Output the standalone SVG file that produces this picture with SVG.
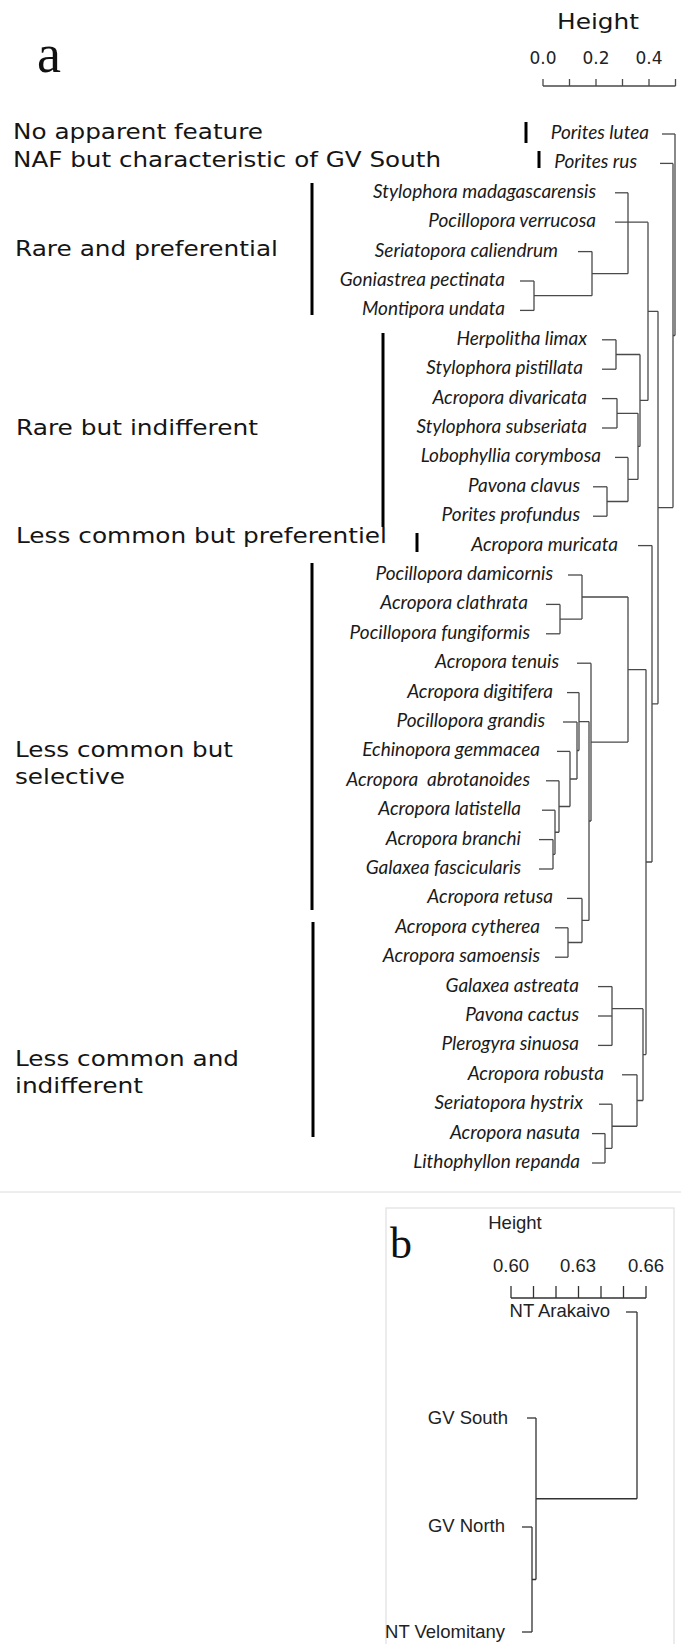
<svg xmlns="http://www.w3.org/2000/svg" width="681" height="1644" viewBox="0 0 681 1644">
<style>
.grp{font-family:"DejaVu Sans",Verdana,sans-serif;font-size:21px;fill:#151515}
.sp{font-family:Lato,"Liberation Sans",sans-serif;font-style:italic;font-size:19px;fill:#1a1a1a;text-anchor:end}
.bar{stroke:#000;stroke-width:3;fill:none}
.ln{stroke:#4a4a4a;stroke-width:1.3;fill:none}
.ax{font-family:"DejaVu Sans",sans-serif;font-size:17px;fill:#222;text-anchor:middle}
.bl{font-family:"Liberation Sans",Arial,sans-serif;font-size:18.5px;fill:#222}
.bln{stroke:#333;stroke-width:1.3;fill:none}
</style>
<rect width="681" height="1644" fill="#fff"/>

<g id="panel-a-header">
<text x="37" y="72" font-family="'Liberation Serif',serif" font-size="54" fill="#111">a</text>
<text class="grp" x="598" y="29" text-anchor="middle" textLength="82" lengthAdjust="spacingAndGlyphs">Height</text>
<text class="ax" x="543" y="64">0.0</text>
<text class="ax" x="596" y="64">0.2</text>
<text class="ax" x="649" y="64">0.4</text>
<path class="ln" d="M543 86H675.5M543 79V86M569.5 79V86M596 79V86M622.5 79V86M649 79V86M675.5 79V86"/>
</g>

<g id="group-labels">
<g id="g-naf"><text class="grp" x="13" y="139" textLength="250" lengthAdjust="spacingAndGlyphs">No apparent feature</text><line class="bar" x1="526" y1="122" x2="526" y2="143"/></g>
<g id="g-gvs"><text class="grp" x="13" y="167" textLength="428" lengthAdjust="spacingAndGlyphs">NAF but characteristic of GV South</text><line class="bar" x1="539" y1="151" x2="539" y2="168"/></g>
<g id="g-rp"><text class="grp" x="15" y="256" textLength="263" lengthAdjust="spacingAndGlyphs">Rare and preferential</text><line class="bar" x1="312" y1="183" x2="312" y2="315"/></g>
<g id="g-ri"><text class="grp" x="16" y="435" textLength="242" lengthAdjust="spacingAndGlyphs">Rare but indifferent</text><line class="bar" x1="383" y1="333" x2="383" y2="527"/></g>
<g id="g-lcp"><text class="grp" x="16" y="543" textLength="371" lengthAdjust="spacingAndGlyphs">Less common but preferentiel</text><line class="bar" x1="417" y1="533" x2="417" y2="552"/></g>
<g id="g-lcs"><text class="grp" x="15" y="757" textLength="218" lengthAdjust="spacingAndGlyphs">Less common but</text><text class="grp" x="15" y="784" textLength="110" lengthAdjust="spacingAndGlyphs">selective</text><line class="bar" x1="312" y1="563" x2="312" y2="910"/></g>
<g id="g-lci"><text class="grp" x="15" y="1066" textLength="224" lengthAdjust="spacingAndGlyphs">Less common and</text><text class="grp" x="15" y="1093" textLength="128" lengthAdjust="spacingAndGlyphs">indifferent</text><line class="bar" x1="313" y1="922" x2="313" y2="1137"/></g>
</g>

<g id="leaves-a">
<g id="l01"><text class="sp" x="649" y="139">Porites lutea</text><line class="ln" x1="662" y1="134" x2="675" y2="134"/></g>
<g id="l02"><text class="sp" x="637" y="168.4">Porites rus</text><line class="ln" x1="660" y1="163.4" x2="673" y2="163.4"/></g>
<g id="l03"><text class="sp" x="596" y="197.8">Stylophora madagascarensis</text><line class="ln" x1="615" y1="192.8" x2="628" y2="192.8"/></g>
<g id="l04"><text class="sp" x="596" y="227.2">Pocillopora verrucosa</text><line class="ln" x1="615" y1="222.2" x2="648" y2="222.2"/></g>
<g id="l05"><text class="sp" x="558" y="256.6">Seriatopora caliendrum</text><line class="ln" x1="578" y1="251.6" x2="592" y2="251.6"/></g>
<g id="l06"><text class="sp" x="505" y="286">Goniastrea pectinata</text><line class="ln" x1="520" y1="281" x2="534" y2="281"/></g>
<g id="l07"><text class="sp" x="505" y="315.4">Montipora undata</text><line class="ln" x1="520" y1="310.4" x2="534" y2="310.4"/></g>
<g id="l08"><text class="sp" x="587" y="344.8">Herpolitha limax</text><line class="ln" x1="602" y1="339.8" x2="616" y2="339.8"/></g>
<g id="l09"><text class="sp" x="583" y="374.2">Stylophora pistillata</text><line class="ln" x1="602" y1="369.2" x2="616" y2="369.2"/></g>
<g id="l10"><text class="sp" x="587" y="403.6">Acropora divaricata</text><line class="ln" x1="602" y1="398.6" x2="617" y2="398.6"/></g>
<g id="l11"><text class="sp" x="587" y="433">Stylophora subseriata</text><line class="ln" x1="602" y1="428" x2="617" y2="428"/></g>
<g id="l12"><text class="sp" x="601" y="462.4">Lobophyllia corymbosa</text><line class="ln" x1="615" y1="457.4" x2="628" y2="457.4"/></g>
<g id="l13"><text class="sp" x="580" y="491.8">Pavona clavus</text><line class="ln" x1="593" y1="486.8" x2="607" y2="486.8"/></g>
<g id="l14"><text class="sp" x="580" y="521.2">Porites profundus</text><line class="ln" x1="593" y1="516.2" x2="607" y2="516.2"/></g>
<g id="l15"><text class="sp" x="618" y="550.6">Acropora muricata</text><line class="ln" x1="638" y1="545.6" x2="652" y2="545.6"/></g>
<g id="l16"><text class="sp" x="553" y="580">Pocillopora damicornis</text><line class="ln" x1="568" y1="575" x2="582" y2="575"/></g>
<g id="l17"><text class="sp" x="528" y="609.4">Acropora clathrata</text><line class="ln" x1="546" y1="604.4" x2="560" y2="604.4"/></g>
<g id="l18"><text class="sp" x="530" y="638.8">Pocillopora fungiformis</text><line class="ln" x1="546" y1="633.8" x2="560" y2="633.8"/></g>
<g id="l19"><text class="sp" x="559" y="668.2">Acropora tenuis</text><line class="ln" x1="577" y1="663.2" x2="591" y2="663.2"/></g>
<g id="l20"><text class="sp" x="553" y="697.6">Acropora digitifera</text><line class="ln" x1="567" y1="692.6" x2="579" y2="692.6"/></g>
<g id="l21"><text class="sp" x="545" y="727">Pocillopora grandis</text><line class="ln" x1="563" y1="722" x2="577" y2="722"/></g>
<g id="l22"><text class="sp" x="540" y="756.4">Echinopora gemmacea</text><line class="ln" x1="557" y1="751.4" x2="570" y2="751.4"/></g>
<g id="l23"><text class="sp" x="530" y="785.8" xml:space="preserve">Acropora  abrotanoides</text><line class="ln" x1="546" y1="780.8" x2="559" y2="780.8"/></g>
<g id="l24"><text class="sp" x="521" y="815.2">Acropora latistella</text><line class="ln" x1="542" y1="810.2" x2="555" y2="810.2"/></g>
<g id="l25"><text class="sp" x="521" y="844.6">Acropora branchi</text><line class="ln" x1="539" y1="839.6" x2="553" y2="839.6"/></g>
<g id="l26"><text class="sp" x="521" y="874">Galaxea fascicularis</text><line class="ln" x1="539" y1="869" x2="553" y2="869"/></g>
<g id="l27"><text class="sp" x="553" y="903.4">Acropora retusa</text><line class="ln" x1="567" y1="898.4" x2="582" y2="898.4"/></g>
<g id="l28"><text class="sp" x="540" y="932.8">Acropora cytherea</text><line class="ln" x1="555" y1="927.8" x2="568" y2="927.8"/></g>
<g id="l29"><text class="sp" x="540" y="962.2">Acropora samoensis</text><line class="ln" x1="555" y1="957.2" x2="568" y2="957.2"/></g>
<g id="l30"><text class="sp" x="579" y="991.6">Galaxea astreata</text><line class="ln" x1="598" y1="986.6" x2="612" y2="986.6"/></g>
<g id="l31"><text class="sp" x="579" y="1021">Pavona cactus</text><line class="ln" x1="598" y1="1016" x2="612" y2="1016"/></g>
<g id="l32"><text class="sp" x="579" y="1050.4">Plerogyra sinuosa</text><line class="ln" x1="598" y1="1045.4" x2="612" y2="1045.4"/></g>
<g id="l33"><text class="sp" x="604" y="1079.8">Acropora robusta</text><line class="ln" x1="622" y1="1074.8" x2="637" y2="1074.8"/></g>
<g id="l34"><text class="sp" x="583" y="1109.2">Seriatopora hystrix</text><line class="ln" x1="599" y1="1104.2" x2="612" y2="1104.2"/></g>
<g id="l35"><text class="sp" x="580" y="1138.6">Acropora nasuta</text><line class="ln" x1="592" y1="1133.6" x2="605" y2="1133.6"/></g>
<g id="l36"><text class="sp" x="580" y="1168">Lithophyllon repanda</text><line class="ln" x1="592" y1="1163" x2="605" y2="1163"/></g>
</g>

<g id="connectors-a">
<path class="ln" d="M534 281V310.4M534 295.7H592M592 251.6V295.7M592 273.65H628M628 192.8V273.65
M616 339.8V369.2M616 354.5H640M617 398.6V428M617 413.3H638M607 486.8V516.2M607 501.5H628M628 457.4V501.5M628 479.45H638M638 413.3V479.45M638 446.4H640M640 354.5V446.4M640 400.45H648M648 222.2V400.45M648 311.3H658
M560 604.4V633.8M560 619.1H582M582 575V619.1M582 597H628
M553 839.6V869M553 854.3H555M555 810.2V854.3M555 832.25H559M559 780.8V832.25M559 806.5H570M570 751.4V806.5M570 779H577M577 722V779M577 750.5H579M579 692.6V750.5M579 721.55H589
M568 927.8V957.2M568 942.5H582M582 898.4V942.5M582 920.45H589M589 721.55V920.45M589 821H591M591 663.2V821M591 742.1H628M628 597V742.1M628 669.55H646
M612 986.6V1045.4M612 1008.65H643M605 1133.6V1163M605 1148.3H612M612 1104.2V1148.3M612 1126.25H637M637 1074.8V1126.25M637 1100.5H643M643 1008.65V1100.5M643 1054.6H646
M646 669.55V1054.6M646 862H652M652 545.6V862M652 703.8H658M658 311.3V703.8M658 507.55H673M673 163.4V507.55M673 335.5H675M675 134V335.5"/>
</g>

<line x1="0" y1="1192" x2="681" y2="1192" stroke="#dcdcdc" stroke-width="1"/>

<g id="panel-b">
<rect x="386" y="1208" width="288" height="445" fill="none" stroke="#e0e0e0" stroke-width="1.2"/>
<text x="390" y="1258" font-family="'Liberation Serif',serif" font-size="44" fill="#111">b</text>
<text class="bl" x="515" y="1229" text-anchor="middle" font-size="18">Height</text>
<text class="bl" x="511" y="1272" text-anchor="middle" font-size="18">0.60</text>
<text class="bl" x="578" y="1272" text-anchor="middle" font-size="18">0.63</text>
<text class="bl" x="646" y="1272" text-anchor="middle" font-size="18">0.66</text>
<path class="bln" d="M511 1298H646M511 1286V1298M533.5 1286V1298M556 1286V1298M578.5 1286V1298M601 1286V1298M623.5 1286V1298M646 1286V1298"/>
<g id="b-arakaivo"><text class="bl" x="610" y="1317" text-anchor="end">NT Arakaivo</text><line class="bln" x1="626" y1="1312" x2="637" y2="1312"/></g>
<g id="b-gvsouth"><text class="bl" x="508" y="1424" text-anchor="end">GV South</text><line class="bln" x1="527" y1="1418" x2="536" y2="1418"/></g>
<g id="b-gvnorth"><text class="bl" x="505" y="1532" text-anchor="end">GV North</text><line class="bln" x1="522" y1="1527" x2="532" y2="1527"/></g>
<g id="b-velomitany"><text class="bl" x="505" y="1638" text-anchor="end">NT Velomitany</text><line class="bln" x1="522" y1="1632" x2="532" y2="1632"/></g>
<g id="connectors-b"><path class="bln" d="M532 1527V1632M532 1579.5H536M536 1418V1579.5M536 1498.75H637M637 1312V1498.75"/></g>
</g>
</svg>
